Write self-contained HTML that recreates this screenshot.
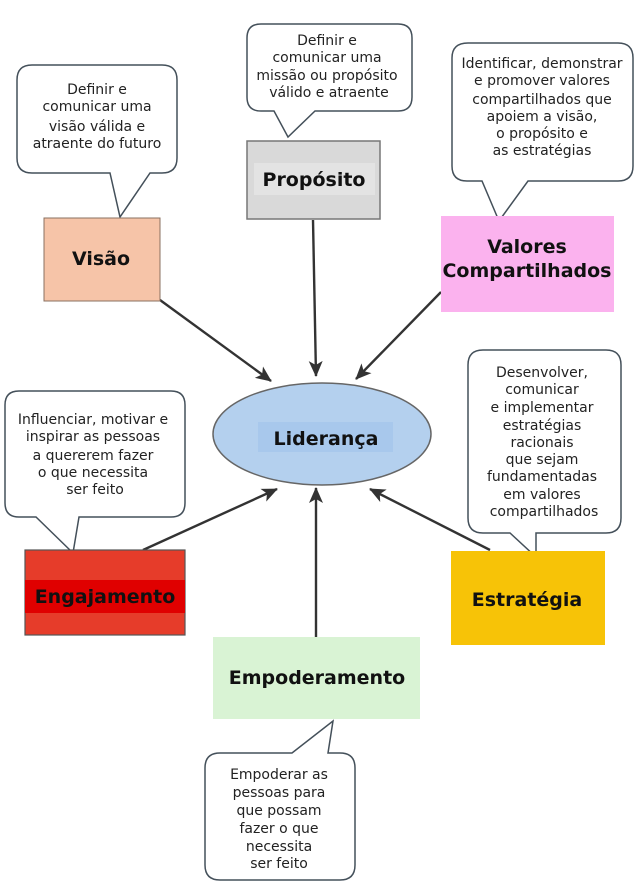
<!DOCTYPE html>
<html><head><meta charset="utf-8"><style>
html,body{margin:0;padding:0;background:#fff;}
svg{display:block;}
text{font-family:"DejaVu Sans","Liberation Sans",sans-serif;}
.b{font-size:14px;fill:#222;text-anchor:middle;}
.t{font-size:19px;font-weight:bold;fill:#111;text-anchor:middle;}
</style></head><body>
<svg width="634" height="881" viewBox="0 0 634 881" xmlns="http://www.w3.org/2000/svg">
<defs><marker id="a" markerWidth="16" markerHeight="14" refX="15" refY="7" orient="auto" markerUnits="userSpaceOnUse"><path d="M0,0 L16,7 L0,14 L4,7 z" fill="#333"/></marker></defs>

<g stroke="#333" stroke-width="2.4" fill="none">
<line x1="160" y1="300" x2="271" y2="381" marker-end="url(#a)"/>
<line x1="313" y1="220" x2="316" y2="376" marker-end="url(#a)"/>
<line x1="441" y1="292" x2="356" y2="379" marker-end="url(#a)"/>
<line x1="143" y1="550" x2="277" y2="489" marker-end="url(#a)"/>
<line x1="316" y1="638" x2="316" y2="488" marker-end="url(#a)"/>
<line x1="490" y1="550" x2="370" y2="489" marker-end="url(#a)"/>
</g>

<g fill="#fff" stroke="#44505a" stroke-width="1.5">
<path d="M32,65 H162 Q177,65 177,80 V158 Q177,173 162,173 H150 L120,217 L110,173 H32 Q17,173 17,158 V80 Q17,65 32,65 Z"/>
<path d="M261,24 H398 Q412,24 412,38 V97 Q412,111 398,111 H315 L288,137 L274,111 H261 Q247,111 247,97 V38 Q247,24 261,24 Z"/>
<path d="M468,43 H618 Q633,43 633,58 V166 Q633,181 618,181 H528 L499,221 L482,181 H467 Q452,181 452,166 V58 Q452,43 468,43 Z"/>
<path d="M19,391 H171 Q185,391 185,405 V503 Q185,517 171,517 H79 L73,553 L36,517 H19 Q5,517 5,503 V405 Q5,391 19,391 Z"/>
<path d="M483,350 H606 Q621,350 621,365 V518 Q621,533 606,533 H536 L536,557 L510,533 H483 Q468,533 468,518 V365 Q468,350 483,350 Z"/>
<path d="M220,753 H292 L333,721 L328,753 H340 Q355,753 355,768 V865 Q355,880 340,880 H220 Q205,880 205,865 V768 Q205,753 220,753 Z"/>
</g>

<rect x="44" y="218" width="116" height="83" fill="#f6c4a8" stroke="#8a7060" stroke-width="1"/>
<rect x="247" y="141" width="133" height="78" fill="#d9d9d9" stroke="#777" stroke-width="1.5"/>
<rect x="254" y="163" width="121" height="32" fill="#e3e3e3"/>
<rect x="441" y="216" width="173" height="96" fill="#fbb2ee"/>
<ellipse cx="322" cy="434" rx="109" ry="51" fill="#b4d0ee" stroke="#666" stroke-width="1.5"/>
<rect x="258" y="422" width="135" height="30" fill="#a8c8ec"/>
<rect x="25" y="550" width="160" height="85" fill="#e63c2a" stroke="#555" stroke-width="1.2"/>
<rect x="25" y="580" width="160" height="33" fill="#e00000"/>
<rect x="451" y="551" width="154" height="94" fill="#f7c307"/>
<rect x="213" y="637" width="207" height="82" fill="#d9f3d4"/>

<text class="t" x="101" y="265">Visão</text>
<text class="t" x="314" y="186">Propósito</text>
<text class="t" x="527" y="253">Valores</text>
<text class="t" x="527" y="277">Compartilhados</text>
<text class="t" x="326" y="445">Liderança</text>
<text class="t" x="105" y="603">Engajamento</text>
<text class="t" x="527" y="606">Estratégia</text>
<text class="t" x="317" y="684">Empoderamento</text>

<text class="b" x="97" y="94">Definir e</text>
<text class="b" x="97" y="111">comunicar uma</text>
<text class="b" x="97" y="131">visão válida e</text>
<text class="b" x="97" y="148">atraente do futuro</text>

<text class="b" x="327" y="45">Definir e</text>
<text class="b" x="327" y="62">comunicar uma</text>
<text class="b" x="327" y="80">missão ou propósito</text>
<text class="b" x="329" y="97">válido e atraente</text>

<text class="b" x="542" y="68">Identificar, demonstrar</text>
<text class="b" x="542" y="85">e promover valores</text>
<text class="b" x="542" y="104">compartilhados que</text>
<text class="b" x="542" y="121">apoiem a visão,</text>
<text class="b" x="542" y="138">o propósito e</text>
<text class="b" x="542" y="155">as estratégias</text>

<text class="b" x="93" y="424">Influenciar, motivar e</text>
<text class="b" x="93" y="441">inspirar as pessoas</text>
<text class="b" x="93" y="460">a quererem fazer</text>
<text class="b" x="93" y="477">o que necessita</text>
<text class="b" x="95" y="494">ser feito</text>

<text class="b" x="542" y="377">Desenvolver,</text>
<text class="b" x="542" y="394">comunicar</text>
<text class="b" x="542" y="412">e implementar</text>
<text class="b" x="542" y="430">estratégias</text>
<text class="b" x="542" y="447">racionais</text>
<text class="b" x="542" y="464">que sejam</text>
<text class="b" x="542" y="481">fundamentadas</text>
<text class="b" x="542" y="499">em valores</text>
<text class="b" x="544" y="516">compartilhados</text>

<text class="b" x="279" y="779">Empoderar as</text>
<text class="b" x="279" y="797">pessoas para</text>
<text class="b" x="279" y="815">que possam</text>
<text class="b" x="279" y="833">fazer o que</text>
<text class="b" x="279" y="851">necessita</text>
<text class="b" x="279" y="868">ser feito</text>
</svg>
</body></html>
